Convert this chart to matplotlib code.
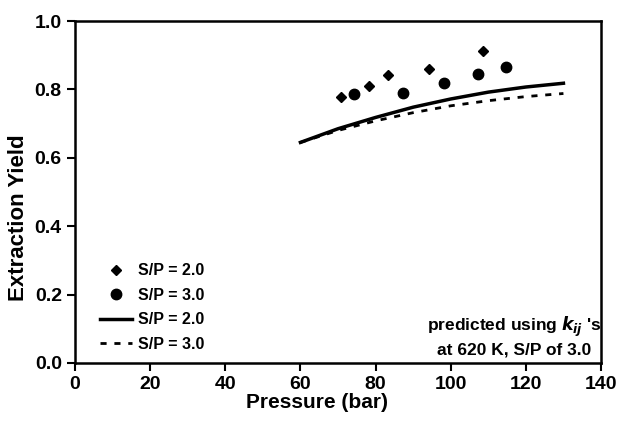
import matplotlib.pyplot as plt

# measured points
p_sp2 = [70.8, 78.2, 83.2, 94.3, 108.7]
y_sp2 = [0.778, 0.811, 0.842, 0.861, 0.913]
p_sp3 = [74.3, 87.4, 98.3, 107.2, 114.7]
y_sp3 = [0.787, 0.790, 0.820, 0.844, 0.865]

# predicted curves
p_pred = [60, 70, 80, 90, 100, 110, 120, 130]
y_pred_sp2 = [0.645, 0.685, 0.718, 0.748, 0.772, 0.792, 0.807, 0.818]
y_pred_sp3 = [0.645, 0.680, 0.708, 0.732, 0.752, 0.767, 0.779, 0.788]

xticks = [0, 20, 40, 60, 80, 100, 120, 140]
yticks = [0.0, 0.2, 0.4, 0.6, 0.8, 1.0]

plt.rcParams['font.family'] = ['Liberation Sans', 'DejaVu Sans']
plt.rcParams['font.weight'] = 'bold'

fig = plt.figure(figsize=(6.18, 4.21), dpi=100)
ax = fig.add_axes([0.1214, 0.1378, 0.8511, 0.8123])

ax.plot(p_sp2, y_sp2, 'kD', markersize=5.5, label='S/P = 2.0')
ax.plot(p_sp3, y_sp3, 'ko', markersize=7.5, label='S/P = 3.0')
ax.plot(p_pred, y_pred_sp2, 'k-', lw=2.5, label='S/P = 2.0')
ax.plot(p_pred, y_pred_sp3, 'k', ls=(0, (2.2, 2.8)), lw=2, label='S/P = 3.0')

ax.set_xlim(0, 140)
ax.set_ylim(0, 1.0)
ax.set_xticks(xticks)
ax.set_yticks(yticks)
ax.set_yticklabels([f"{v:.1f}" for v in yticks])
ax.tick_params(direction='out', length=6, width=1.5, labelsize=14)
for s in ax.spines.values():
    s.set_linewidth(1.8)

ax.set_xlabel('Pressure (bar)', fontsize=15, fontweight='bold')
ax.set_ylabel('Extraction Yield', fontsize=16, fontweight='bold')
# labels in the original sit off-centre
ax.xaxis.set_label_coords(0.46, -0.088)
ax.yaxis.set_label_coords(-0.088, 0.424)

leg = ax.legend(loc='lower left', bbox_to_anchor=(0.02, -0.01), frameon=False,
                fontsize=11.5, handlelength=2.0, labelspacing=0.6, handletextpad=0.4)

ax.text(0.835, 0.079, "predicted using $\\boldsymbol{k_{ij}}$ 's\nat 620 K, S/P of 3.0",
        transform=ax.transAxes, ha='center', va='center', fontsize=12.5,
        fontweight='bold', linespacing=1.25)

fig.savefig('out.png', dpi=100)
